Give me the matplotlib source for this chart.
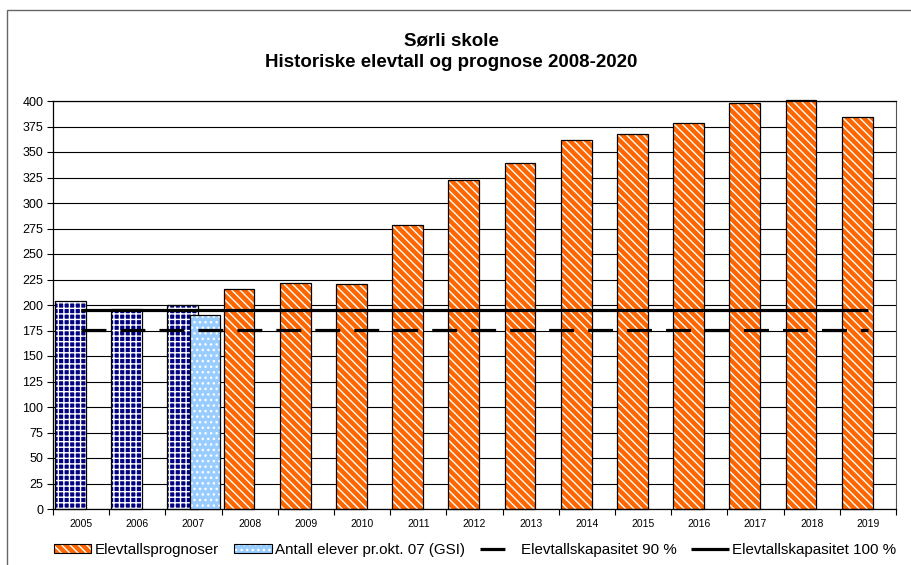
import matplotlib.pyplot as plt
import numpy as np
from matplotlib.patches import Patch, Rectangle
from matplotlib.lines import Line2D
from matplotlib.legend_handler import HandlerTuple

# --- data ---
years = ['2005', '2006', '2007', '2008', '2009', '2010', '2011', '2012',
         '2013', '2014', '2015', '2016', '2017', '2018', '2019']
historic = [204, 196, 200]            # 2005-2007, registered pupils
gsi_2007 = [190]                      # 2007, pupils per Oct. 07 (GSI)
forecast = [216, 222, 221, 278, 323, 339, 362, 368, 378, 398, 401, 384]  # 2008-2019
capacity_100 = 195
capacity_90 = 175.5

NAVY = '#000080'
ORANGE = '#FF6600'
LIGHTBLUE = '#99CCFF'
DASHES = (7.8, 4.4)

plt.rcParams['font.family'] = ['Liberation Sans', 'DejaVu Sans']
plt.rcParams['hatch.linewidth'] = 1.0


def hatched_bars(ax, xs, heights, width, face, hatch, hatch_color, z):
    # hatch takes the edge colour, so draw the pattern and the outline separately
    ax.bar(xs, heights, width, color=face, edgecolor=hatch_color, hatch=hatch,
           linewidth=0, zorder=z, clip_on=False)
    ax.bar(xs, heights, width, fill=False, edgecolor='black', linewidth=0.9,
           zorder=z + 0.1, clip_on=False)


fig = plt.figure(figsize=(9.11, 5.65), dpi=100)
ax = fig.add_axes([53 / 911, 1 - 509 / 565, 843 / 911, 408 / 565])

x = np.arange(len(years))
hatched_bars(ax, x[:3] - 0.19, historic, 0.55, NAVY, '+++', 'white', 2)
hatched_bars(ax, x[2:3] + 0.21, gsi_2007, 0.53, LIGHTBLUE, '...', 'white', 3)
hatched_bars(ax, x[3:] - 0.19, forecast, 0.55, ORANGE, '\\\\\\\\', 'white', 2)

ax.plot(x, np.full(len(x), capacity_100), color='black', lw=2.3, zorder=5,
        solid_capstyle='butt')
ax.plot(x, np.full(len(x), capacity_90), color='black', lw=2.3, zorder=5,
        dashes=DASHES, dash_capstyle='butt')

ax.set_xlim(-0.5, len(years) - 0.5)
ax.set_ylim(0, 400)
ax.set_yticks(np.arange(0, 401, 25))
ax.yaxis.grid(True, color='black', linewidth=0.8)
ax.set_axisbelow(True)
ax.tick_params(axis='y', labelsize=9, length=4, width=0.8, pad=3)

ax.set_xticks(np.arange(-0.5, len(years), 1.0))
ax.set_xticklabels([])
ax.set_xticks(x, minor=True)
ax.set_xticklabels(years, minor=True, fontsize=7.5)
ax.tick_params(axis='x', which='major', length=4, width=0.8)
ax.tick_params(axis='x', which='minor', length=0, pad=7)

for side in ['left', 'bottom', 'top']:
    ax.spines[side].set_linewidth(0.9)
ax.spines['right'].set_color('#555555')

fig.text(0.495, 1 - 41 / 565, 'Sørli skole', ha='center', va='center',
         fontsize=13.5, fontweight='bold')
fig.text(0.495, 1 - 62.5 / 565, 'Historiske elevtall og prognose 2008-2020',
         ha='center', va='center', fontsize=13.5, fontweight='bold')

# chart area border (cut off at right and bottom)
fig.add_artist(Rectangle((7 / 911, -0.05), 1.0, 1 - 10 / 565 + 0.05,
                         transform=fig.transFigure, fill=False,
                         edgecolor='#666666', linewidth=1))

h_fc = (Patch(facecolor=ORANGE, edgecolor='white', hatch='\\\\\\\\', linewidth=0),
        Patch(fill=False, edgecolor='black', linewidth=0.8))
h_gsi = (Patch(facecolor=LIGHTBLUE, edgecolor='white', hatch='...', linewidth=0),
         Patch(fill=False, edgecolor='black', linewidth=0.8))
h_90 = Line2D([], [], color='black', lw=2.3, dashes=DASHES, dash_capstyle='butt')
h_100 = Line2D([], [], color='black', lw=2.3, solid_capstyle='butt')

fig.legend([h_fc, h_gsi, h_90, h_100],
           ['Elevtallsprognoser', 'Antall elever pr.okt. 07 (GSI)',
            'Elevtallskapasitet 90 %', 'Elevtallskapasitet 100 %'],
           handler_map={tuple: HandlerTuple(ndivide=1, pad=0)},
           loc='center', bbox_to_anchor=(475 / 911, 1 - 550 / 565), ncol=4,
           frameon=False, fontsize=10.9, handlelength=2.5, handleheight=0.5,
           handletextpad=0.2, columnspacing=1.0, borderpad=0, borderaxespad=0)

fig.savefig('out.png', dpi=100)
